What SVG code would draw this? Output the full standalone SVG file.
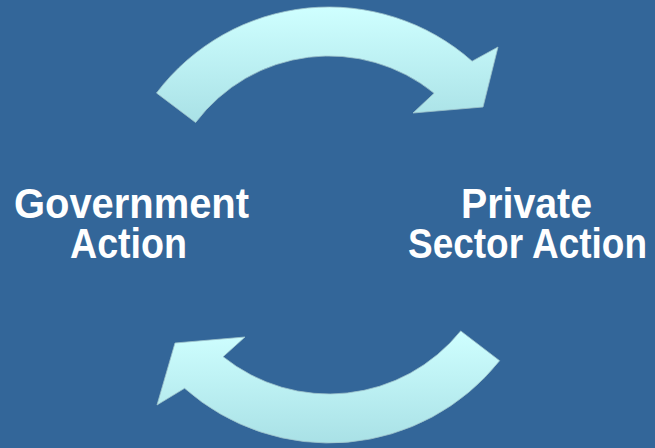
<svg xmlns="http://www.w3.org/2000/svg" width="655" height="448" viewBox="0 0 655 448">
  <defs>
    <linearGradient id="gTop" x1="0" y1="0" x2="0" y2="1">
      <stop offset="0" stop-color="#CFFFFF"/>
      <stop offset="1" stop-color="#A9E1E6"/>
    </linearGradient>
    <linearGradient id="gBot" x1="0" y1="0" x2="0" y2="1">
      <stop offset="0" stop-color="#CFFFFF"/>
      <stop offset="1" stop-color="#A9E1E6"/>
    </linearGradient>
  </defs>
  <style>
    .arrow { stroke: #9FC4CC; stroke-width: 0.8; stroke-linejoin: miter; }
    .label { font-family: "Liberation Sans", Arial, sans-serif; font-weight: bold; font-size: 42px; fill: #FFFFFF; }
  </style>
  <rect x="0" y="0" width="655" height="448" fill="#336699"/>
  <g id="connectors">
    <path id="arrow-top" class="arrow" fill="url(#gTop)" d="M156.5,93 A216,216 0 0 1 472.1,61.2 L498,47 L483,107 L413,113 L434.1,93.2 A167,167 0 0 0 195.6,122.5 Z"/>
    <path id="arrow-bottom" class="arrow" fill="url(#gBot)" d="M499.6,360.7 A218,218 0 0 1 184.6,388.3 L157,405 L175,343 L245,337 L223.1,356.7 A169,169 0 0 0 460.7,330.9 Z"/>
  </g>
  <g id="node-government">
    <text class="label" x="14" y="218" textLength="235" lengthAdjust="spacingAndGlyphs">Government</text>
    <text class="label" x="70" y="258" textLength="117" lengthAdjust="spacingAndGlyphs">Action</text>
  </g>
  <g id="node-private">
    <text class="label" x="461" y="218" textLength="131" lengthAdjust="spacingAndGlyphs">Private</text>
    <text class="label" x="408" y="258" textLength="239" lengthAdjust="spacingAndGlyphs">Sector Action</text>
  </g>
</svg>
